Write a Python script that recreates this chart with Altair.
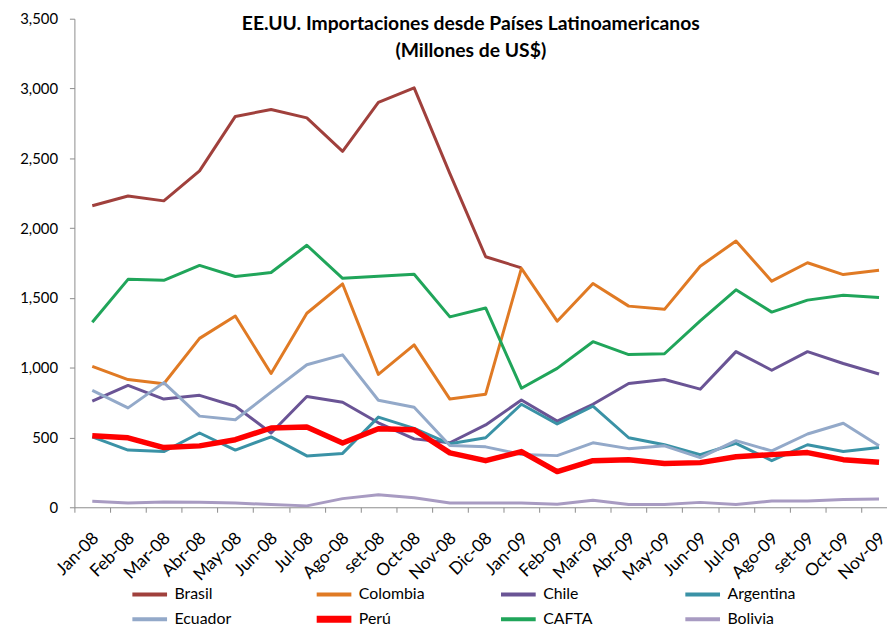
import altair as alt
import pandas as pd

months = ["Jan-08", "Feb-08", "Mar-08", "Abr-08", "May-08", "Jun-08", "Jul-08", "Ago-08",
          "set-08", "Oct-08", "Nov-08", "Dic-08", "Jan-09", "Feb-09", "Mar-09", "Abr-09",
          "May-09", "Jun-09", "Jul-09", "Ago-09", "set-09", "Oct-09", "Nov-09"]

brasil = [2160, 2230, 2195, 2410, 2800, 2850, 2790, 2550, 2900, 3005, 2390, 1795, 1715]
colombia = [1010, 915, 885, 1210, 1370, 958, 1390, 1600, 952, 1163, 775, 810, 1711,
            1333, 1603, 1441, 1418, 1727, 1907, 1620, 1752, 1667, 1698]
chile = [760, 873, 775, 802, 724, 532, 793, 753, 605, 490, 462, 590, 768,
         617, 738, 887, 915, 846, 1115, 982, 1115, 1030, 955]
argentina = [504, 410, 399, 532, 410, 504, 368, 386, 646, 565, 455, 498, 738,
             597, 724, 498, 448, 376, 458, 334, 448, 399, 428]
ecuador = [838, 712, 893, 653, 627, 825, 1021, 1092, 767, 716, 443, 433, 378,
           370, 462, 420, 440, 356, 477, 404, 525, 602, 440]
peru = [513, 498, 428, 440, 484, 568, 575, 461, 562, 555, 390, 334, 399,
        256, 334, 341, 313, 320, 362, 377, 392, 341, 322]
cafta = [1326, 1633, 1626, 1733, 1653, 1682, 1877, 1640, 1655, 1669, 1364, 1428, 853,
         995, 1186, 1094, 1100, 1335, 1558, 1398, 1484, 1519, 1503]
bolivia = [43, 30, 38, 36, 30, 20, 10, 62, 90, 68, 30, 30, 30,
           22, 50, 20, 20, 35, 20, 45, 45, 55, 60]

names = ["Brasil", "Colombia", "Chile", "Argentina", "Ecuador", "Perú", "CAFTA", "Bolivia"]
colors = ["#A0403C", "#E07A24", "#6A5495", "#3A92A6", "#93A9C9", "#FF0000", "#20A55A", "#A89BC2"]
y_ticks = [0, 500, 1000, 1500, 2000, 2500, 3000, 3500]
title_lines = ["EE.UU. Importaciones desde Países Latinoamericanos", "(Millones de US$)"]

series = [brasil, colombia, chile, argentina, ecuador, peru, cafta, bolivia]
rows = []
for name, vals in zip(names, series):
    for m, v in zip(months, vals):
        rows.append({"Mes": m, "Pais": name, "Valor": v})
df = pd.DataFrame(rows)

legend = alt.Legend(
    title=None, orient="none", legendX=68, legendY=570, direction="horizontal",
    columns=4, symbolType="stroke", symbolSize=1225,
    symbolStrokeWidth=alt.ExprRef("datum.value === 'Perú' ? 7 : 4"),
    labelFont="Lato", labelFontSize=16,
    labelColor="#000000", gridAlign="all", columnPadding=60, rowPadding=0,
    symbolOffset=0, labelOffset=17,
)

chart = alt.Chart(df).mark_line(strokeJoin="round").encode(
    x=alt.X("Mes:O", sort=months,
            scale=alt.Scale(type="band", paddingInner=0, paddingOuter=0, range=[0, 830]),
            bandPosition=0.5,
            axis=alt.Axis(title=None, labelAngle=-45, tickBand="extent", labelFont="Lato",
                          labelFontSize=17.5, labelColor="#000000", domainColor="#8C8C8C",
                          tickColor="#8C8C8C", tickSize=5, labelPadding=17, labelOffset=-3)),
    y=alt.Y("Valor:Q", scale=alt.Scale(domain=[0, 3500]),
            axis=alt.Axis(title=None, values=y_ticks, format=",.0f", grid=False, labelFont="Lato",
                          labelFontSize=15, labelColor="#000000", domainColor="#8C8C8C",
                          tickColor="#8C8C8C", tickSize=5, labelPadding=12)),
    color=alt.Color("Pais:N", sort=names, scale=alt.Scale(domain=names, range=colors),
                    legend=legend),
    strokeWidth=alt.condition(alt.datum.Pais == "Perú", alt.value(5.5), alt.value(3)),
).properties(
    width=812, height=493,
    title=alt.TitleParams(text=title_lines, font="Lato", fontSize=19.5, fontWeight="bold",
                          color="#000000", anchor="middle", offset=-50, dx=-6, lineHeight=27),
    autosize=alt.AutoSizeParams(type="none"),
    padding={"left": 67, "top": 8, "right": 8, "bottom": 118},
).configure_view(stroke=None)

chart.save("out.html", embed_options={"renderer": "svg", "actions": False})
